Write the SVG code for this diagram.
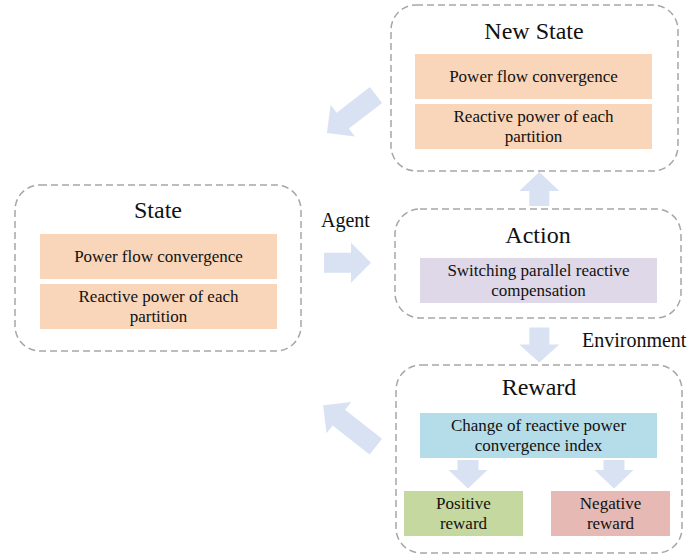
<svg xmlns="http://www.w3.org/2000/svg" width="689" height="556" viewBox="0 0 689 556">
  <style>
    .frame { fill: #ffffff; stroke: #a6a6a6; stroke-width: 1.5; stroke-dasharray: 7 4; }
    .title { font-family: "Liberation Serif", "Times New Roman", serif; font-size: 24px; fill: #111; text-anchor: middle; }
    .txt { font-family: "Liberation Serif", "Times New Roman", serif; font-size: 17px; fill: #111; text-anchor: middle; }
    .lbl { font-family: "Liberation Serif", "Times New Roman", serif; font-size: 20px; fill: #111; }
    .orange { fill: #f9d6b9; }
    .purple { fill: #ded8e8; }
    .blue { fill: #b5dde9; }
    .green { fill: #c4d8a0; }
    .red { fill: #e6b9b5; }
    .arrow { fill: #d9e2f3; }
  </style>

  <!-- State -->
  <g id="state">
    <rect class="frame" x="15" y="185" width="286" height="166" rx="25"/>
    <text class="title" x="158" y="218">State</text>
    <rect class="orange" x="40" y="234" width="237" height="45"/>
    <text class="txt" x="158.5" y="262">Power flow convergence</text>
    <rect class="orange" x="40" y="284" width="237" height="45"/>
    <text class="txt" x="158.5" y="301.5">Reactive power of each</text>
    <text class="txt" x="158.5" y="321.5">partition</text>
  </g>

  <!-- New State -->
  <g id="new-state">
    <rect class="frame" x="391" y="5" width="287" height="166" rx="25"/>
    <text class="title" x="534" y="38.5">New State</text>
    <rect class="orange" x="415" y="54" width="237" height="45"/>
    <text class="txt" x="533.5" y="82">Power flow convergence</text>
    <rect class="orange" x="415" y="104" width="237" height="45"/>
    <text class="txt" x="533.5" y="121.5">Reactive power of each</text>
    <text class="txt" x="533.5" y="141.5">partition</text>
  </g>

  <!-- Action -->
  <g id="action">
    <rect class="frame" x="395" y="209" width="286" height="109" rx="25"/>
    <text class="title" x="538" y="243">Action</text>
    <rect class="purple" x="420" y="258" width="237" height="45"/>
    <text class="txt" x="538.5" y="275.5">Switching parallel reactive</text>
    <text class="txt" x="538.5" y="295.5">compensation</text>
  </g>

  <!-- Reward -->
  <g id="reward">
    <rect class="frame" x="396" y="365" width="286" height="188" rx="25"/>
    <text class="title" x="539" y="395">Reward</text>
    <rect class="blue" x="420" y="413" width="237" height="45"/>
    <text class="txt" x="538.5" y="431">Change of reactive power</text>
    <text class="txt" x="538.5" y="451">convergence index</text>
  </g>

  <g id="positive-reward">
    <rect class="green" x="404" y="491" width="119" height="45"/>
    <text class="txt" x="463.5" y="509">Positive</text>
    <text class="txt" x="463.5" y="529">reward</text>
  </g>

  <g id="negative-reward">
    <rect class="red" x="551" y="491" width="119" height="45"/>
    <text class="txt" x="610.5" y="509">Negative</text>
    <text class="txt" x="610.5" y="529">reward</text>
  </g>

  <!-- Block arrows: each drawn pointing along +x from its tail, then placed -->
  <g id="connectors">
    <path class="arrow" transform="translate(324 262.7)" d="M0,-10 H27 V-20 L47,0 L27,20 V10 H0 Z"/>
    <path class="arrow" transform="translate(539.3 206) rotate(-90)" d="M0,-10 H15 V-20 L34,0 L15,20 V10 H0 Z"/>
    <path class="arrow" transform="translate(539.3 327.5) rotate(90)" d="M0,-10 H17 V-20 L35,0 L17,20 V10 H0 Z"/>
    <path class="arrow" transform="translate(376 95) rotate(142.3)" d="M0,-10 H42 V-20 L62,0 L42,20 V10 H0 Z"/>
    <path class="arrow" transform="translate(375.8 446.7) rotate(218.2)" d="M0,-10 H47 V-20 L67,0 L47,20 V10 H0 Z"/>
    <path class="arrow" transform="translate(468 460) rotate(90)" d="M0,-10.5 H10 V-19.5 L28.5,0 L10,19.5 V10.5 H0 Z"/>
    <path class="arrow" transform="translate(614 460) rotate(90)" d="M0,-10.5 H10 V-19.5 L28.5,0 L10,19.5 V10.5 H0 Z"/>
  </g>

  <text class="lbl" x="321" y="226.5">Agent</text>
  <text class="lbl" x="582" y="347">Environment</text>
</svg>
